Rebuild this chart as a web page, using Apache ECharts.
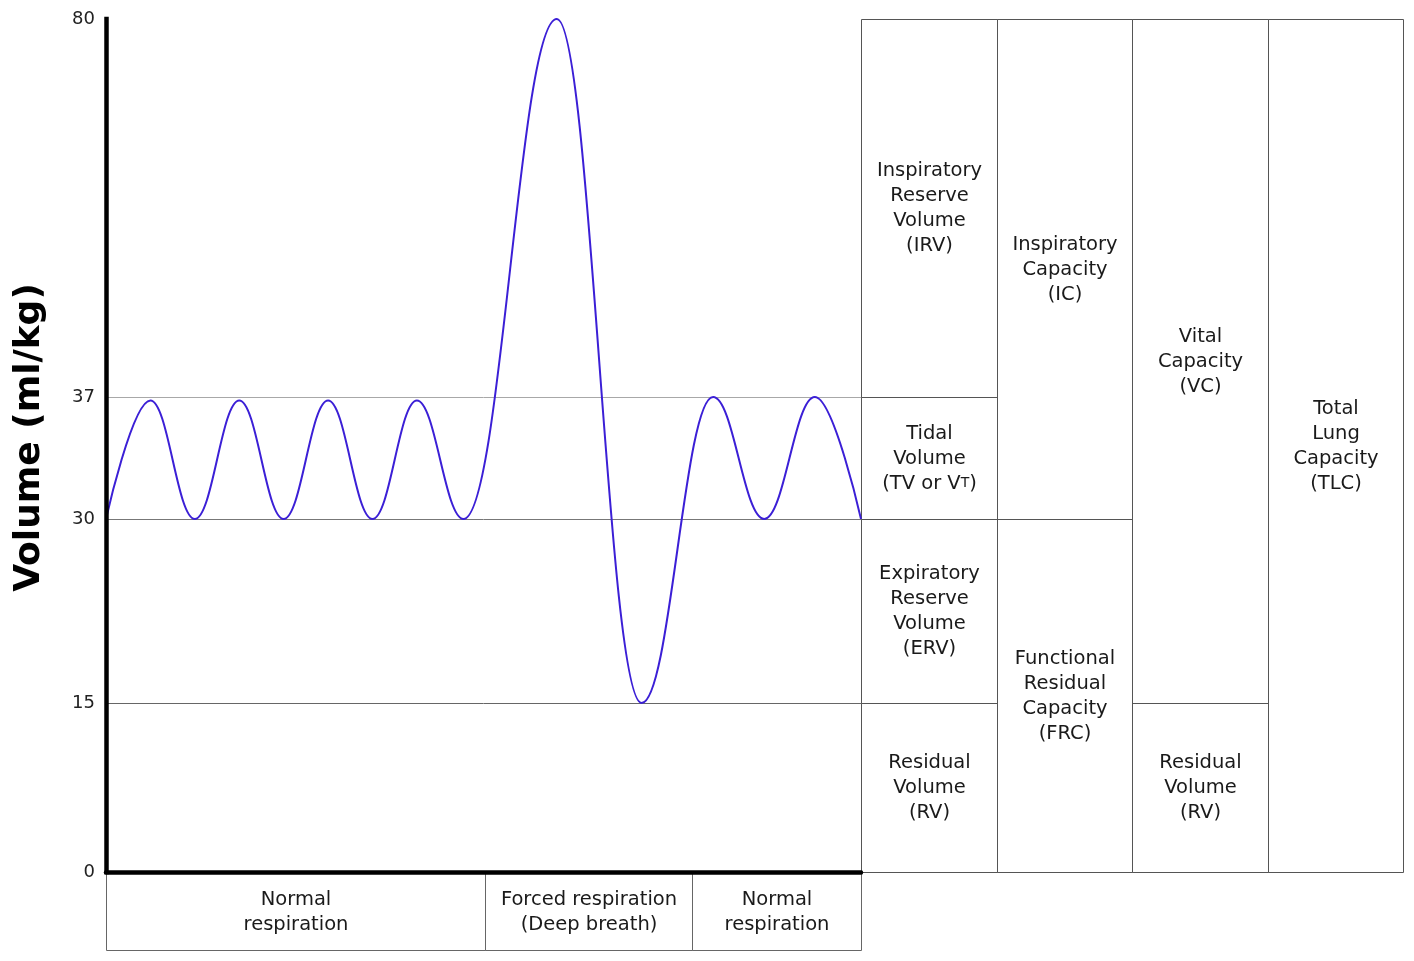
<!DOCTYPE html>
<html><head><meta charset="utf-8">
<script src="https://cdn.jsdelivr.net/npm/echarts@6/dist/echarts.min.js"></script>
<style>html,body{margin:0;padding:0;background:#fff}#c{width:1414px;height:961px}</style>
</head><body><div id="c"></div>
<script>
// ---------------- data ----------------
const yTickValues = [0, 15, 30, 37, 80];                 // ml/kg tick labels
const breathTime   = [0, 1, 2, 3, 4, 5, 6, 7, 8.05, 10.15, 12.06, 13.67, 14.82, 15.96, 17];
const breathVolume = [30, 36.8, 30, 36.8, 30, 36.8, 30, 36.8, 30, 80, 15, 37, 30, 37, 30];
const refLineValues = [37, 30, 15];
const phaseNames = ['Normal\nrespiration', 'Forced respiration\n(Deep breath)', 'Normal\nrespiration'];
const phaseStart = [0, 8.53, 13.2];
const phaseEnd   = [8.53, 13.2, 17];
const volumeNames = [
  'Inspiratory\nReserve\nVolume\n(IRV)',
  'Tidal\nVolume\n(TV or V{s|T})',
  'Expiratory\nReserve\nVolume\n(ERV)',
  'Residual\nVolume\n(RV)',
  'Inspiratory\nCapacity\n(IC)',
  'Functional\nResidual\nCapacity\n(FRC)',
  'Vital\nCapacity\n(VC)',
  'Residual\nVolume\n(RV)',
  'Total\nLung\nCapacity\n(TLC)'
];
const volumeColumn = [0, 0, 0, 0, 1, 1, 2, 2, 3];
const volumeLow    = [37, 30, 15, 0, 30, 0, 15, 0, 0];
const volumeHigh   = [80, 37, 30, 15, 80, 30, 80, 15, 80];

// ---------------- scale (diagram is not to scale: piecewise-linear axis) ----------------
const scaleAnchors = [0, 15, 30, 37, 80];
const scaleDisplay = [0, 169, 353, 475, 853];
function toDisplay(v) {
  for (let i = 1; i < scaleAnchors.length; i++) {
    if (v <= scaleAnchors[i]) {
      const a0 = scaleAnchors[i - 1], a1 = scaleAnchors[i];
      const d0 = scaleDisplay[i - 1], d1 = scaleDisplay[i];
      return d0 + (v - a0) / (a1 - a0) * (d1 - d0);
    }
  }
  return scaleDisplay[scaleDisplay.length - 1];
}
const DMAX = scaleDisplay[scaleDisplay.length - 1];

const FONT = 'DejaVu Sans';
const TXT = '#1a1a1a';
const refColors = {37: '#a8a8a8', 30: '#777777', 15: '#666666'};
const crisp = v => Math.round(v) + 0.5;

const chart = echarts.init(document.getElementById('c'), null, {renderer: 'canvas'});

const option = {
  animation: false,
  backgroundColor: '#fff',
  grid: [
    {left: 106, top: 19, width: 755, height: 853},
    {left: 861, top: 19, width: 542, height: 853},
    {left: 106, top: 872, width: 755, height: 78}
  ],
  xAxis: [
    {gridIndex: 0, type: 'value', min: 0, max: 17, z: 10,
     axisLine: {show: true, onZero: false, lineStyle: {color: '#000', width: 4.5}},
     axisTick: {show: false}, axisLabel: {show: false}, splitLine: {show: false}},
    {gridIndex: 1, type: 'value', min: 0, max: 4, show: false},
    {gridIndex: 2, type: 'value', min: 0, max: 17, show: false}
  ],
  yAxis: [
    {gridIndex: 0, type: 'value', min: 0, max: DMAX, z: 10,
     axisLine: {show: true, onZero: false, lineStyle: {color: '#000', width: 4.5, cap: 'square'}},
     axisTick: {show: false},
     splitLine: {show: false},
     axisLabel: {
       show: true, margin: 11, color: '#222', fontFamily: FONT, fontSize: 18,
       customValues: yTickValues.map(toDisplay),
       formatter: function (val) {
         for (let i = 0; i < yTickValues.length; i++) {
           if (Math.abs(toDisplay(yTickValues[i]) - val) < 0.01) return String(yTickValues[i]);
         }
         return '';
       }
     },
     name: 'Volume (ml/kg)', nameLocation: 'middle', nameGap: 58,
     nameTextStyle: {fontFamily: FONT, fontSize: 36, fontWeight: 'bold', color: '#000', padding: [0, 0, 0, 16]}
    },
    {gridIndex: 1, type: 'value', min: 0, max: DMAX, show: false},
    {gridIndex: 2, type: 'value', min: 0, max: 1, show: false}
  ],
  series: [
    {
      type: 'custom', xAxisIndex: 2, yAxisIndex: 2, silent: true, z: 1,
      data: phaseNames.map((n, i) => [phaseStart[i], phaseEnd[i], i]),
      renderItem: function (params, api) {
        const p0 = api.coord([api.value(0), 1]);
        const p1 = api.coord([api.value(1), 0]);
        const x0 = crisp(p0[0]), x1 = crisp(p1[0]), y0 = crisp(p0[1]), y1 = crisp(p1[1]);
        return {type: 'group', children: [
          {type: 'rect', shape: {x: x0, y: y0, width: x1 - x0, height: y1 - y0},
           style: {fill: null, stroke: '#666', lineWidth: 1}},
          {type: 'text', style: {text: phaseNames[api.value(2)], x: (x0 + x1) / 2, y: (y0 + y1) / 2 + 1,
           align: 'center', verticalAlign: 'middle', fontFamily: FONT, fontSize: 19.5, lineHeight: 25, fill: TXT}}
        ]};
      }
    },
    {
      type: 'custom', xAxisIndex: 1, yAxisIndex: 1, silent: true, z: 1,
      data: volumeNames.map((n, i) => [volumeColumn[i], toDisplay(volumeLow[i]), toDisplay(volumeHigh[i]), i]),
      renderItem: function (params, api) {
        const col = api.value(0);
        const p0 = api.coord([col, api.value(2)]);
        const p1 = api.coord([col + 1, api.value(1)]);
        const x0 = crisp(p0[0]), x1 = crisp(p1[0]), y0 = crisp(p0[1]), y1 = crisp(p1[1]);
        return {type: 'group', children: [
          {type: 'rect', shape: {x: x0, y: y0, width: x1 - x0, height: y1 - y0},
           style: {fill: null, stroke: '#555', lineWidth: 1}},
          {type: 'text', style: {text: volumeNames[api.value(3)], x: (x0 + x1) / 2, y: (y0 + y1) / 2,
           align: 'center', verticalAlign: 'middle', fontFamily: FONT, fontSize: 19.5, lineHeight: 25, fill: TXT,
           rich: {s: {fontFamily: FONT, fontSize: 14, lineHeight: 25, fill: TXT}}}}
        ]};
      }
    },
    {
      type: 'line', xAxisIndex: 0, yAxisIndex: 0, z: 3,
      data: breathTime.map((t, i) => [t, toDisplay(breathVolume[i])]),
      showSymbol: false, symbol: 'none',
      smooth: 0.4, smoothMonotone: 'x',
      lineStyle: {color: '#3b1fd6', width: 2},
      markLine: {
        silent: true, symbol: 'none', label: {show: false}, z: 2,
        data: refLineValues.map(v => ({yAxis: toDisplay(v), lineStyle: {color: refColors[v], width: 1, type: 'solid'}}))
      }
    }
  ]
};
chart.setOption(option);
</script></body></html>
